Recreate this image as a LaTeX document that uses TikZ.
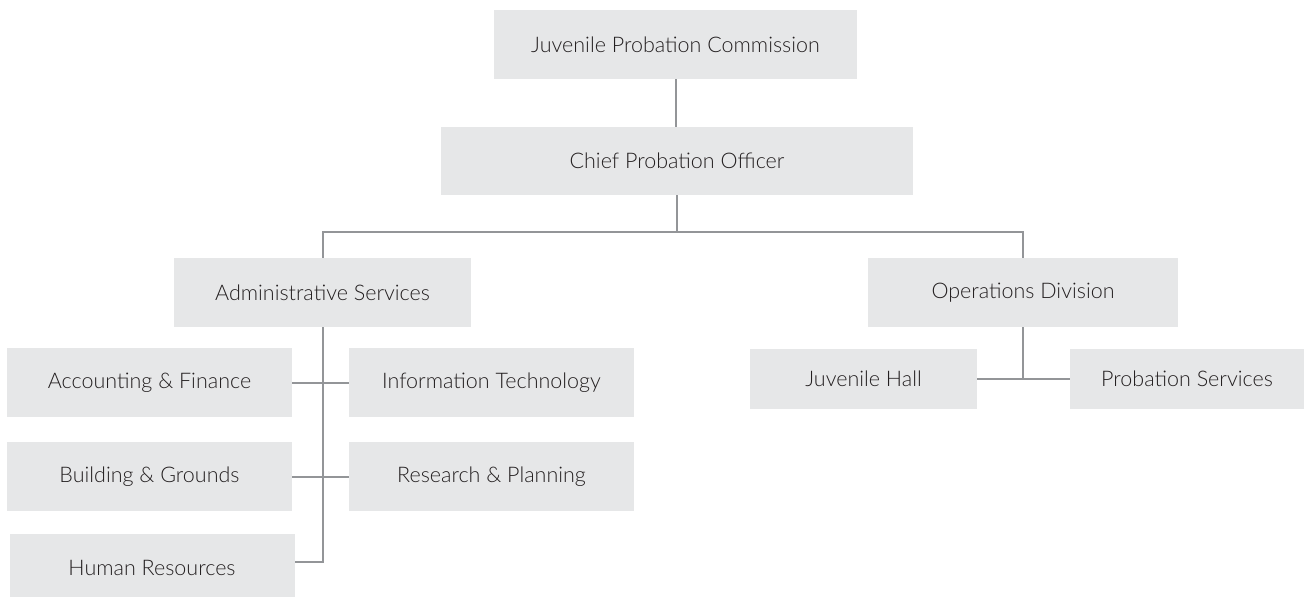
\documentclass[tikz,border=0pt]{standalone}
\usepackage{fontspec}
\setmainfont{Lato Light}
\usetikzlibrary{calc}
\definecolor{boxgray}{HTML}{E6E7E8}
\definecolor{linegray}{HTML}{939598}
\definecolor{textgray}{HTML}{231F20}
\tikzset{unit/.style={fill=boxgray,text=textgray,inner sep=0pt,font=\fontsize{21.5}{24}\selectfont},
         link/.style={draw=linegray,line width=2pt}}

\begin{document}
\begin{tikzpicture}[x=1pt,y=-1pt]
\useasboundingbox (0,0) rectangle (1304,597);
\node[unit,minimum width=363,minimum height=69] (jpc) at (675.5,44.5) {Juvenile Probation Commission};
\node[unit,minimum width=472,minimum height=68] (cpo) at (677,161) {Chief Probation Officer};
\node[unit,minimum width=297,minimum height=69] (adm) at (322.5,292.5) {Administrative Services};
\node[unit,minimum width=310,minimum height=69] (ops) at (1023,292.5) {Operations Division};
\foreach \n/\x/\y/\t in {acc/149.5/382.5/Accounting \& Finance, it/491.5/382.5/Information Technology,
  bld/149.5/476.5/Building \& Grounds, rp/491.5/476.5/Research \& Planning, hr/152/568/Human Resources}{
  \node[unit,minimum width=285,minimum height=69] (\n) at (\x,\y) {\t};}
\node[unit,minimum width=227,minimum height=60] (jh) at (863.5,379) {Juvenile Hall};
\node[unit,minimum width=234,minimum height=60] (ps) at (1187,379) {Probation Services};
\coordinate (split) at (677,232);
\draw[link] (jpc.south) -- (jpc.south |- cpo.north);
\draw[link] (cpo.south) -- (split);
\draw[link] (adm.north) |- (split) -| (ops.north);
\draw[link] (adm.south) |- ([yshift=6pt]hr.east);
\draw[link] (acc.east) -- (it.west);
\draw[link] (bld.east) -- (rp.west);
\draw[link] (ops.south) -- (ops.south |- jh.east);
\draw[link] (jh.east) -- (ps.west);
\end{tikzpicture}
\end{document}
